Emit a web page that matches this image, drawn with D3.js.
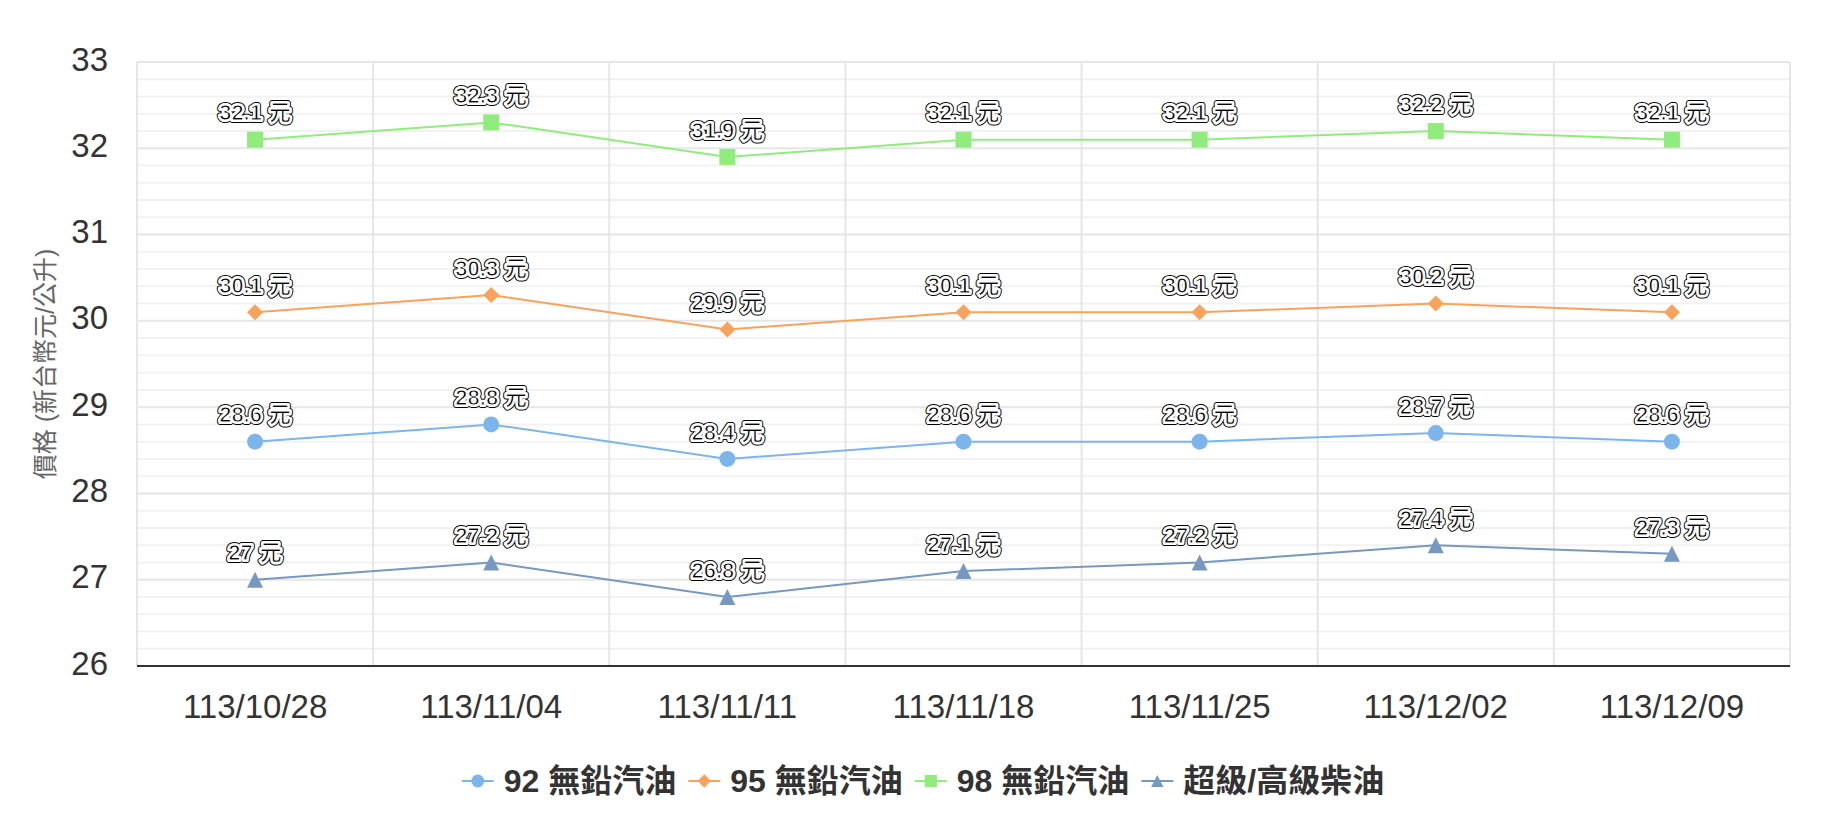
<!DOCTYPE html>
<html><head><meta charset="utf-8">
<script src="https://cdn.jsdelivr.net/npm/d3@7"></script>
<style>
html,body{margin:0;padding:0;background:#fff;}
svg{display:block;font-family:"Helvetica Neue",Helvetica,Arial,"Liberation Sans","Noto Sans CJK TC",sans-serif;}
</style></head>
<body>
<svg id="chart" width="1844" height="814"></svg>
<script>
const categories = ["113/10/28","113/11/04","113/11/11","113/11/18","113/11/25","113/12/02","113/12/09"];
const s92 = [28.6, 28.8, 28.4, 28.6, 28.6, 28.7, 28.6];
const s95 = [30.1, 30.3, 29.9, 30.1, 30.1, 30.2, 30.1];
const s98 = [32.1, 32.3, 31.9, 32.1, 32.1, 32.2, 32.1];
const sDiesel = [27, 27.2, 26.8, 27.1, 27.2, 27.4, 27.3];
const seriesNames = ["92 無鉛汽油","95 無鉛汽油","98 無鉛汽油","超級/高級柴油"];
const yTicks = [26,27,28,29,30,31,32,33];
const yTitle = "價格 (新台幣元/公升)";
const unit = "元";

const diamond = {draw(ctx, size){ const r = Math.sqrt(size/2); ctx.moveTo(0,-r); ctx.lineTo(r,0); ctx.lineTo(0,r); ctx.lineTo(-r,0); ctx.closePath(); }};
const triangle = {draw(ctx, size){ const r = Math.sqrt(size)/2; ctx.moveTo(0,-r); ctx.lineTo(r,r); ctx.lineTo(-r,r); ctx.closePath(); }};

const series = [
  {name: seriesNames[0], values: s92, color: "#7cb5ec", symbol: d3.symbolCircle, size: 200, lsize: 130},
  {name: seriesNames[1], values: s95, color: "#f7a35c", symbol: diamond, size: 128, lsize: 90},
  {name: seriesNames[2], values: s98, color: "#90ed7d", symbol: d3.symbolSquare, size: 256, lsize: 150},
  {name: seriesNames[3], values: sDiesel, color: "#7798BF", symbol: triangle, size: 256, lsize: 150}
];

const svg = d3.select("#chart");
const L = 137, R = 1790, T = 62, B = 666;
const x = d3.scaleBand().domain(categories).range([L, R]);
const y = d3.scaleLinear().domain([26, 33]).range([B, T]);

// minor grid
const minor = d3.range(26, 33.001, 0.2).filter(v => Math.abs(v - Math.round(v)) > 0.01);
svg.append("g").selectAll("line").data(minor).join("line")
  .attr("x1", L).attr("x2", R).attr("y1", d => y(d)).attr("y2", d => y(d))
  .attr("stroke", "#f2f2f2").attr("stroke-width", 2);
// major grid
svg.append("g").selectAll("line").data(yTicks.filter(d => d !== 26)).join("line")
  .attr("x1", L).attr("x2", R).attr("y1", d => y(d)).attr("y2", d => y(d))
  .attr("stroke", "#e6e6e6").attr("stroke-width", 2);
// vertical grid
const vx = categories.map(c => x(c)).concat([R]);
svg.append("g").selectAll("line").data(vx).join("line")
  .attr("x1", d => d).attr("x2", d => d).attr("y1", T).attr("y2", B)
  .attr("stroke", "#e6e6e6").attr("stroke-width", 2);

// x axis line
svg.append("line").attr("x1", L).attr("x2", R).attr("y1", B).attr("y2", B)
  .attr("stroke", "#333").attr("stroke-width", 2);

// y tick labels
svg.append("g").selectAll("text").data(yTicks).join("text")
  .attr("x", 108).attr("y", d => y(d) - 3).attr("dy", "0.35em")
  .attr("text-anchor", "end").attr("font-size", 33).attr("fill", "#333")
  .text(d => d);

// x tick labels
svg.append("g").selectAll("text").data(categories).join("text")
  .attr("x", d => x(d) + x.bandwidth() / 2).attr("y", 706).attr("dy", "0.35em")
  .attr("text-anchor", "middle").attr("font-size", 33).attr("fill", "#333")
  .text(d => d);

// y title
svg.append("text")
  .attr("transform", `translate(45,${(T + B) / 2}) rotate(-90)`)
  .attr("text-anchor", "middle").attr("dy", "0.35em")
  .attr("font-size", 25).attr("fill", "#666")
  .text(yTitle);

const cx = c => x(c) + x.bandwidth() / 2;
const line = d3.line().x((d, i) => cx(categories[i])).y(d => y(d));

series.forEach(s => {
  const g = svg.append("g");
  g.append("path").datum(s.values).attr("d", line)
    .attr("fill", "none").attr("stroke", s.color).attr("stroke-width", 2);
  g.selectAll("path.m").data(s.values).join("path").attr("class", "m")
    .attr("transform", (d, i) => `translate(${cx(categories[i])},${y(d)})`)
    .attr("d", d3.symbol().type(s.symbol).size(s.size))
    .attr("fill", s.color);
});
series.forEach(s => {
  const g = svg.append("g");
  const lbl = g.selectAll("g.lbl").data(s.values).join("g").attr("class", "lbl")
    .attr("transform", (d, i) => `translate(${cx(categories[i])},${y(d) - 27})`);
  const addText = (sel) => {
    const t = sel.append("text").attr("text-anchor", "middle").attr("dy", "0.35em")
      .attr("font-size", 22).attr("font-weight", "bold");
    t.append("tspan").text(d => d);
    t.append("tspan").attr("dx", 7).text(unit);
    return t;
  };
  addText(lbl).attr("fill", "none").attr("stroke", "#000").attr("stroke-width", 6).attr("stroke-linejoin", "round");
  addText(lbl).attr("fill", "none").attr("stroke", "#fff").attr("stroke-width", 4).attr("stroke-linejoin", "round");
  addText(lbl).attr("fill", "#000").attr("stroke", "#fff").attr("stroke-width", 1.2);
});

// legend
const legend = svg.append("g");
let cur = 0;
series.forEach(s => {
  const it = legend.append("g");
  it.append("line").attr("x1", 0).attr("x2", 32).attr("y1", 0).attr("y2", 0)
    .attr("stroke", s.color).attr("stroke-width", 2);
  it.append("path").attr("transform", "translate(16,0)")
    .attr("d", d3.symbol().type(s.symbol).size(s.lsize))
    .attr("fill", s.color);
  const t = it.append("text").attr("x", 42).attr("dy", "0.35em")
    .attr("font-size", 32).attr("font-weight", "bold").attr("fill", "#333").text(s.name);
  const w = 42 + t.node().getComputedTextLength();
  it.attr("transform", `translate(${cur},781)`);
  cur += w + 12;
});
const total = cur - 12;
legend.attr("transform", `translate(${923 - total / 2},0)`);
</script>
</body></html>
